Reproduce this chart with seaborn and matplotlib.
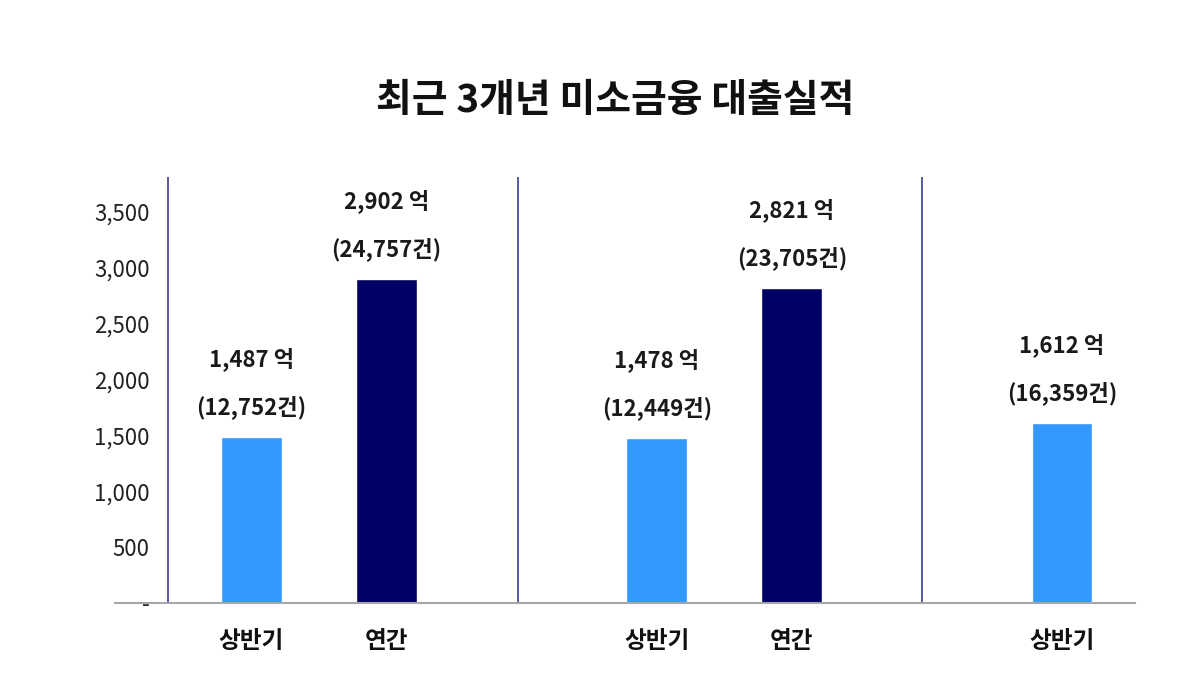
import numpy as np
import pandas as pd
import matplotlib
matplotlib.use("Agg")
import matplotlib.pyplot as plt
import seaborn as sns

# 데이터
groups = [0, 0, 1, 1, 2]                      # 연도 그룹 (3개년)
periods = ["상반기", "연간", "상반기", "연간", "상반기"]
amounts = [1487, 2902, 1478, 2821, 1612]       # 대출액 (억)
counts = ["12,752", "24,757", "12,449", "23,705", "16,359"]   # 건수
yticks = [0, 500, 1000, 1500, 2000, 2500, 3000, 3500]
ytick_labels = ["-", "500", "1,000", "1,500", "2,000", "2,500", "3,000", "3,500"]
title = "최근 3개년 미소금융 대출실적"

sns.set_style("white")
plt.rcParams['font.family'] = ['Noto Sans CJK KR', 'DejaVu Sans']

period_idx = {"상반기": 0, "연간": 1}
df = pd.DataFrame({"group": groups, "period": periods, "amount": amounts})
df["pos"] = df["group"] * 3 + df["period"].map(period_idx)

fig = plt.figure(figsize=(12, 6.86), dpi=100)
ax = fig.add_axes([0.0958, 0.121, 0.85, 0.621])

sns.barplot(data=df, x="pos", y="amount", hue="period", native_scale=True,
            palette={"상반기": "#3399FF", "연간": "#000066"}, saturation=1,
            width=0.45, dodge=False, legend=False, ax=ax)

ax.set_xlim(-1.01, 6.54)
ax.set_ylim(0, 3810)
ax.set_yticks(yticks)
ax.set_yticklabels(ytick_labels, fontsize=16, color="#222222")
ax.set_xticks(df["pos"])
ax.set_xticklabels(periods, fontsize=17, fontweight="bold", color="#111111")
ax.tick_params(axis="both", length=0)
ax.tick_params(axis="y", pad=-25)
ax.tick_params(axis="x", pad=19)
ax.set_xlabel("")
ax.set_ylabel("")

for s in ["top", "right", "left"]:
    ax.spines[s].set_visible(False)
ax.spines["bottom"].set_color("#A6A6A6")
ax.spines["bottom"].set_linewidth(1.5)

# 구분선
for xv in [-0.615, 1.97, 4.96]:
    ax.axvline(xv, color="#4B4B9B", lw=1.3)

# 값 라벨
for p, a, c in zip(df["pos"], amounts, counts):
    ax.annotate(f"{a:,} 억", (p, a), xytext=(0, 56), textcoords="offset points",
                ha="center", va="center", fontsize=16, fontweight="bold", color="#1a1a1a")
    ax.annotate(f"({c}건)", (p, a), xytext=(0, 21), textcoords="offset points",
                ha="center", va="center", fontsize=16, fontweight="bold", color="#1a1a1a")

fig.text(0.5125, 0.854, title, ha="center", va="center",
         fontsize=28, fontweight="bold", color="#111111")

fig.savefig("out.png", dpi=100)
